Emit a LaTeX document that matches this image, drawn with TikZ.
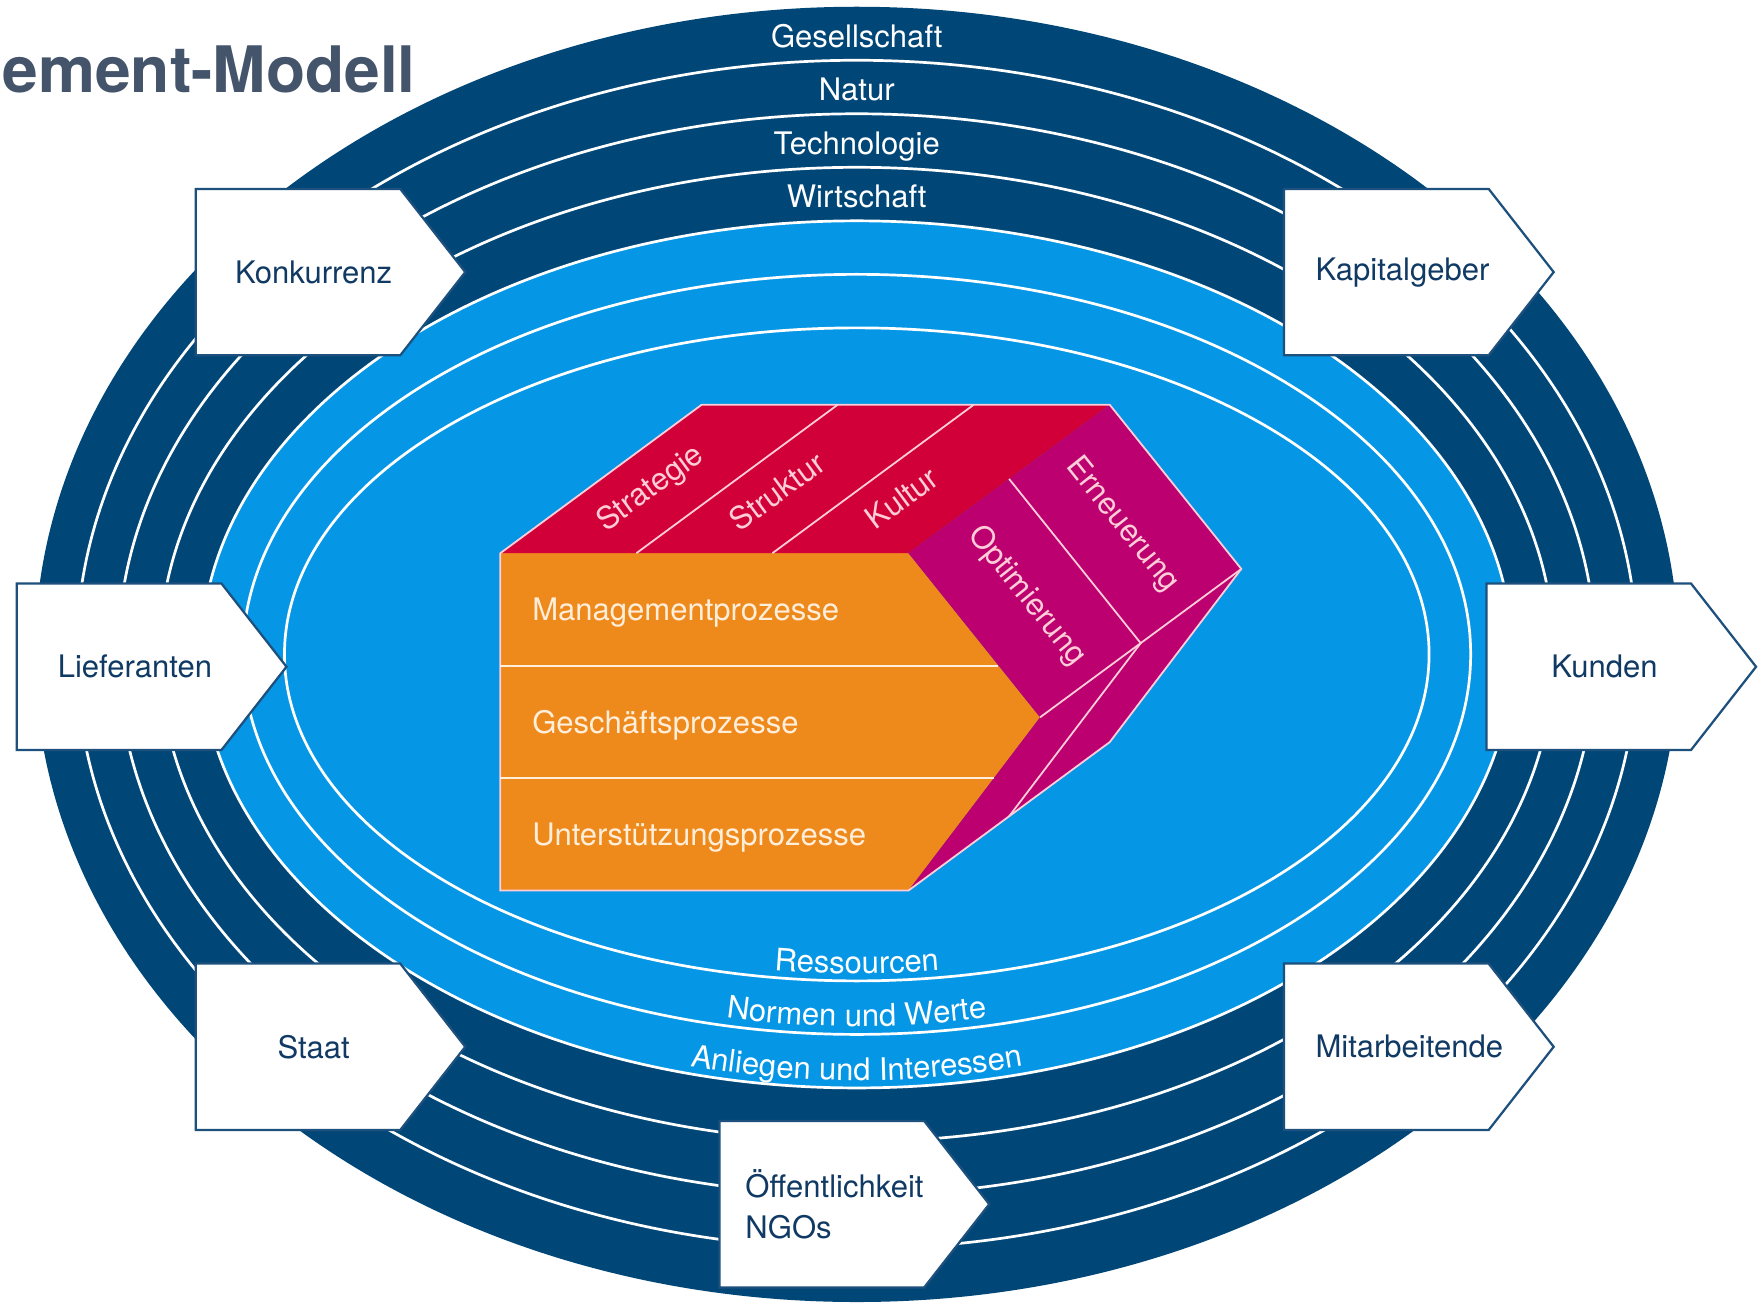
\documentclass[tikz,border=0pt]{standalone}
\usepackage{fontspec}
\setmainfont{TeX Gyre Heros}
\usepackage{tikz}
\usetikzlibrary{shapes,positioning,calc,decorations.text}

\definecolor{navy}{RGB}{0,71,120}
\definecolor{sky}{RGB}{5,150,230}
\definecolor{boxtext}{RGB}{16,58,100}
\definecolor{boxline}{RGB}{30,80,125}
\definecolor{titlegrey}{RGB}{68,84,106}
\definecolor{cubered}{RGB}{210,0,56}
\definecolor{cubemag}{RGB}{188,0,112}
\definecolor{cubeorange}{RGB}{238,137,28}
\definecolor{palepink}{RGB}{255,205,215}
\definecolor{cream}{RGB}{255,238,218}

\hyphenpenalty=10000
\exhyphenpenalty=10000
\newcommand{\labelfont}{\fontsize{13.8}{18}\selectfont}

\tikzstyle{ring} = [draw=white,line width=1.2pt]
\tikzstyle{band} = [text=white,font=\labelfont,inner sep=0pt,anchor=base]
\tikzstyle{stakebase} = [signal,signal to=east,signal pointer angle=104,draw=boxline,line width=1pt,fill=white,text=boxtext,font=\labelfont,minimum height=74pt]
\tikzstyle{stake} = [stakebase,inner xsep=0pt,text width=91pt,align=center,execute at begin node=\leavevmode\kern14pt]
\tikzstyle{facetext} = [text=palepink,font=\labelfont,inner sep=0pt]
\tikzstyle{edge} = [draw=palepink,line width=0.8pt]
\tikzset{>=latex}

\begin{document}
\begin{tikzpicture}[x=0.5pt,y=0.5pt]
    \useasboundingbox [fill=white] (0,0) rectangle (1568,-1161);

    \coordinate (c) at (762,-582);
    \fill [navy] (c) ellipse [x radius=731,y radius=576];
    \foreach \k in {1,2,3}
        \draw [ring] (c) ellipse [x radius={731-37*\k},y radius={576-47.6*\k}];
    \filldraw [fill=sky,ring] (c) ellipse [x radius=583,y radius=385.6];
    \foreach \k in {5,6}
        \draw [ring] (c) ellipse [x radius={731-37*\k},y radius={576-47.6*\k}];

    \foreach \k/\txt in {0/Gesellschaft,1/Natur,2/Technologie,3/Wirtschaft}
        \node [band] (env\k) at (762,{-42-47.6*\k}) {\txt};

    \path [decorate,decoration={text along path,text align=center,text color=white,text={|\labelfont|Ressourcen}}]
        (c) ++(-250.5,-246.0) arc [start angle=240,end angle=300,x radius=501,y radius=284];
    \path [decorate,decoration={text along path,text align=center,text color=white,text={|\labelfont|Normen und Werte}}]
        (c) ++(-269,-286.6) arc [start angle=240,end angle=300,x radius=538,y radius=331];
    \path [decorate,decoration={text along path,text align=center,text color=white,text={|\labelfont|Anliegen und Interessen}}]
        (c) ++(-288,-328.2) arc [start angle=240,end angle=300,x radius=576,y radius=379];

    \coordinate (fa) at (445,-492);
    \coordinate (fb) at (808,-492);
    \coordinate (ft) at (925,-638);
    \coordinate (fc) at (808,-792);
    \coordinate (fd) at (445,-792);
    \coordinate (ba) at (624,-360);
    \coordinate (bb) at (987,-360);
    \coordinate (bt) at (1104,-506);
    \coordinate (bc) at (987,-660);
    \fill [cubeorange] (fa) -- (fb) -- (ft) -- (fc) -- (fd) -- cycle;
    \fill [cubered] (fa) -- (ba) -- (bb) -- (fb) -- cycle;
    \fill [cubemag] (fb) -- (bb) -- (bt) -- (bc) -- (fc) -- (ft) -- cycle;
    \draw [edge] (fd) -- (fa) -- (ba) -- (bb) -- (bt) -- (bc) -- (fc) -- cycle;
    \draw [edge] (ft) -- (bt);
    \draw [edge] (566,-492) -- ++(179,132);
    \draw [edge] (687,-492) -- ++(179,132);
    \draw [edge] ($(fb)!0.5!(bb)$) -- ($(ft)!0.5!(bt)$) -- ($(fc)!0.5!(bc)$);
    \draw [edge,draw=cream] (445,-592) -- (888,-592);
    \draw [edge,draw=cream] (445,-692) -- (884,-692);

    \node [facetext,text=cream,anchor=base west] (mgmt) at (473,-552) {Managementprozesse};
    \node [facetext,text=cream,anchor=base west] (gesch) at (473,-652) {Geschäftsprozesse};
    \node [facetext,text=cream,anchor=base west] (unter) at (473,-752) {Unterstützungsprozesse};
    \node [facetext,rotate=36.4] (strat) at (579,-435) {Strategie};
    \node [facetext,rotate=36.4] (strukt) at (691,-437) {Struktur};
    \node [facetext,rotate=36.4] (kult) at (802,-443) {Kultur};
    \node [facetext,rotate=-51.3] (opt) at (913,-530) {Optimierung};
    \node [facetext,rotate=-51.3] (ern) at (998,-467) {Erneuerung};

    \node [stake] (konk) at (265,-242) {Konkurrenz};
    \node [stake] (kapital) at (1233,-242) {Kapitalgeber};
    \node [stake] (liefer) at (106,-593) {Lieferanten};
    \node [stake] (kunden) at (1413,-593) {Kunden};
    \node [stake] (staat) at (265,-931) {Staat};
    \node [stake] (mitarb) at (1233,-931) {Mitarbeitende};
    \node [stakebase,align=left,inner xsep=11.5pt,text width=68pt] (oeff) at (731,-1071) {Öffentlichkeit\\NGOs};

    \node [anchor=base west,inner sep=0pt,text=titlegrey,font=\bfseries\fontsize{28.5}{32}\selectfont] (title) at (2,-82) {ement-Modell};
\end{tikzpicture}
\end{document}
